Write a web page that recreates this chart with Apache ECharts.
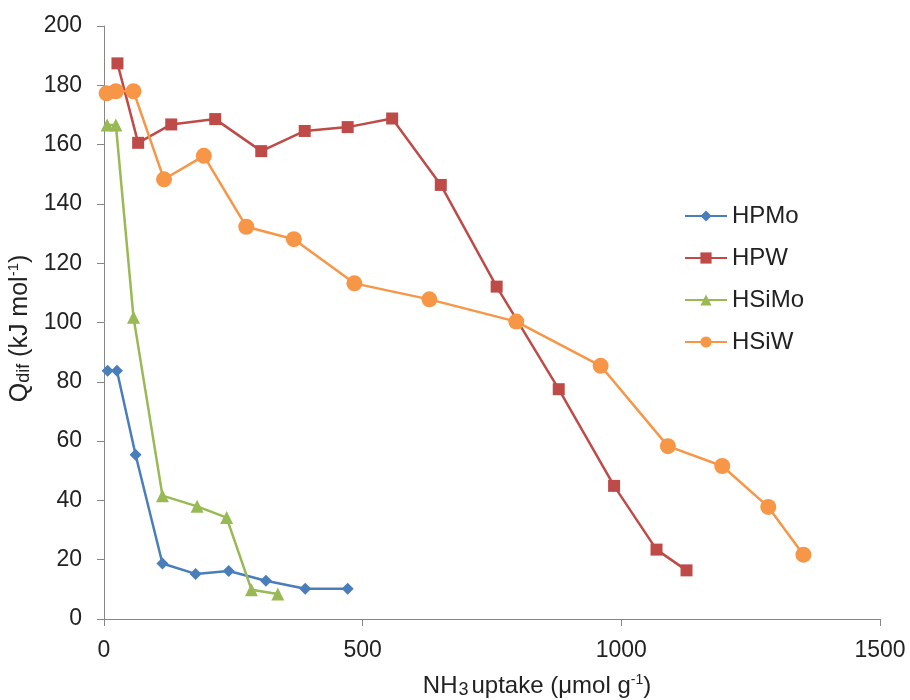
<!DOCTYPE html>
<html><head><meta charset="utf-8">
<script src="https://cdn.jsdelivr.net/npm/echarts@6/dist/echarts.min.js"></script>
<style>html,body{margin:0;padding:0;background:#fff}#c{width:910px;height:700px}</style>
</head><body><div id="c"></div>
<script>
const seriesNames = ['HPMo', 'HPW', 'HSiMo', 'HSiW'];
const hpmoX = [7, 25, 61, 113, 177, 241, 313, 389, 471];
const hpmoY = [83.7, 83.7, 55.4, 18.7, 15.2, 16.2, 12.9, 10.2, 10.2];
const hpwX = [26, 66, 130, 215, 304, 388, 471, 557, 651, 759, 879, 986, 1068, 1126];
const hpwY = [187.4, 160.6, 166.8, 168.6, 157.8, 164.6, 165.9, 168.8, 146.4, 112.1, 77.5, 44.9, 23.4, 16.4];
const hsimoX = [6, 23, 57, 113, 180, 237, 285, 336];
const hsimoY = [166.6, 166.6, 101.8, 41.6, 38, 34.2, 9.9, 8.4];
const hsiwX = [5, 23, 57, 116, 193, 275, 367, 484, 629, 797, 960, 1090, 1195, 1284, 1352];
const hsiwY = [177.3, 178, 178, 148.3, 156.2, 132.3, 128.1, 113.2, 107.8, 100.3, 85.4, 58.3, 51.6, 37.8, 21.7];
const xTicks = [0, 500, 1000, 1500];
const yTicks = [0, 20, 40, 60, 80, 100, 120, 140, 160, 180, 200];

const colors = ['#4A7EBB', '#BE4B48', '#98B954', '#F79646'];
const symbols = ['diamond', 'rect', 'triangle', 'circle'];
const sizes = [12, 12, 13, 16];
const xs = [hpmoX, hpwX, hsimoX, hsiwX];
const ys = [hpmoY, hpwY, hsimoY, hsiwY];

const font = 'Liberation Sans, Arial, sans-serif';
const txt = '#222';
const chart = echarts.init(document.getElementById('c'));
chart.setOption({
  animation: false,
  color: colors,
  grid: { left: 104, right: 30, top: 26, bottom: 81, containLabel: false, outerBoundsMode: 'none' },
  legend: {
    orient: 'vertical', left: 679, top: 199, itemGap: 18,
    itemWidth: 42, itemHeight: 14,
    textStyle: { fontFamily: font, fontSize: 24, color: txt },
    data: seriesNames
  },
  xAxis: {
    type: 'value', min: 0, max: 1500, interval: 500,
    axisLine: { lineStyle: { color: '#868686', width: 1 } },
    axisTick: { show: true, length: 7, lineStyle: { color: '#868686' } },
    splitLine: { show: false },
    axisLabel: { fontFamily: font, fontSize: 23, color: txt, margin: 20,
      formatter: v => xTicks.includes(v) ? String(v) : '' },
    name: '{a|NH}{s|3}{a|uptake (μmol g}{p|-1}{a|)}',
    nameLocation: 'middle', nameGap: 54,
    nameTextStyle: { padding: [0, 0, 0, 90], rich: {
      a: { fontFamily: font, fontSize: 24, color: txt },
      s: { fontFamily: font, fontSize: 18, color: txt, padding: [8, 3, 0, 1] },
      p: { fontFamily: font, fontSize: 14, color: txt, padding: [0, 0, 11, 0] }
    } }
  },
  yAxis: {
    type: 'value', min: 0, max: 200, interval: 20,
    axisLine: { show: true, lineStyle: { color: '#868686', width: 1 } },
    axisTick: { show: true, length: 7, lineStyle: { color: '#868686' } },
    splitLine: { show: false },
    axisLabel: { fontFamily: font, fontSize: 23, color: txt, margin: 22,
      formatter: v => yTicks.includes(v) ? String(v) : '' },
    name: '{a|Q}{s|dif}{a| (kJ mol}{p|-1}{a|)}',
    nameLocation: 'middle', nameGap: 67, nameRotate: 90,
    nameTextStyle: { padding: [0, 12, 0, 0], rich: {
      a: { fontFamily: font, fontSize: 25, color: txt },
      s: { fontFamily: font, fontSize: 18, color: txt, padding: [8, 0, 0, 0] },
      p: { fontFamily: font, fontSize: 15, color: txt, padding: [0, 0, 11, 0] }
    } }
  },
  series: seriesNames.map((n, i) => ({
    name: n, type: 'line',
    data: xs[i].map((x, j) => [x, ys[i][j]]),
    symbol: symbols[i], symbolSize: sizes[i], showSymbol: true,
    lineStyle: { width: 2.5, color: colors[i] },
    itemStyle: { color: colors[i] },
    z: 2 + i
  }))
});
</script></body></html>
